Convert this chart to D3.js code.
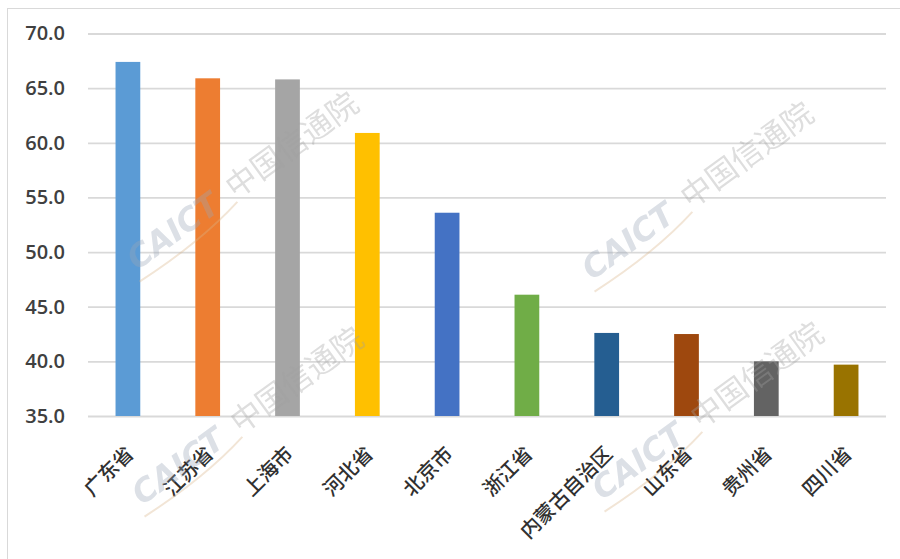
<!DOCTYPE html>
<html>
<head>
<meta charset="utf-8">
<script src="https://cdn.jsdelivr.net/npm/d3@7"></script>
<style>
  html, body { margin: 0; padding: 0; background: #ffffff; }
  svg { display: block; }
</style>
</head>
<body>
<svg id="chart" width="900" height="559"></svg>
<script>
// Regions and their scores
const regions = ["广东省", "江苏省", "上海市", "河北省", "北京市", "浙江省", "内蒙古自治区", "山东省", "贵州省", "四川省"];
const scores = [67.4, 65.9, 65.8, 60.9, 53.6, 46.1, 42.6, 42.5, 40.0, 39.7];
const barColors = ["#5B9BD5", "#ED7D31", "#A5A5A5", "#FFC000", "#4472C4", "#70AD47", "#255E91", "#9E480E", "#636363", "#997300"];
const yTicks = [35, 40, 45, 50, 55, 60, 65, 70];

const svg = d3.select("#chart");
const W = 900, H = 559;
const plot = { left: 88, right: 886, top: 33.5, bottom: 416 };

// frame
svg.append("line").attr("x1", 7).attr("x2", W).attr("y1", 8.5).attr("y2", 8.5)
  .attr("stroke", "#d9d9d9").attr("stroke-width", 1);
svg.append("line").attr("x1", 7.5).attr("x2", 7.5).attr("y1", 8).attr("y2", H)
  .attr("stroke", "#d9d9d9").attr("stroke-width", 1);

const x = d3.scaleBand().domain(regions).range([plot.left, plot.right])
  .paddingInner(0.69).paddingOuter(0.345);
const y = d3.scaleLinear().domain([35, 70]).range([plot.bottom, plot.top]);

// horizontal gridlines + value labels
const yAxis = d3.axisLeft(y).tickValues(yTicks).tickFormat(d3.format(".1f"))
  .tickSize(-(plot.right - plot.left)).tickPadding(23);
const gy = svg.append("g").attr("transform", `translate(${plot.left},0)`).call(yAxis);
gy.select(".domain").remove();
gy.selectAll(".tick line").attr("stroke", "#d9d9d9").attr("stroke-width", 1.8);
gy.selectAll(".tick text")
  .attr("fill", "#404040")
  .style("font-family", "'Open Sans', 'DejaVu Sans', sans-serif")
  .style("font-size", "20px")
  .style("font-weight", "600");

// bars
svg.append("g").selectAll("rect").data(regions).join("rect")
  .attr("x", d => x(d))
  .attr("width", x.bandwidth())
  .attr("y", (d, i) => y(scores[i]))
  .attr("height", (d, i) => y(35) - y(scores[i]))
  .attr("fill", (d, i) => barColors[i]);

// category labels, slanted
const xAxis = d3.axisBottom(x).tickSize(0).tickPadding(0);
const gx = svg.append("g").attr("transform", `translate(0,${plot.bottom})`).call(xAxis);
gx.select(".domain").remove();
gx.selectAll(".tick text")
  .attr("fill", "#303030")
  .attr("text-anchor", "end")
  .attr("dy", null)
  .attr("transform", "translate(7,39) rotate(-45)")
  .style("font-family", "'Noto Sans CJK SC', sans-serif")
  .style("font-size", "20px")
  .style("font-weight", "500");

// CAICT watermark stamps
const marks = [[235, 185], [690, 195], [240, 420], [700, 415]];
const wm = svg.append("g").attr("opacity", 0.35).style("pointer-events", "none");
marks.forEach(([cx, cy]) => {
  const g = wm.append("g").attr("transform", `translate(${cx},${cy}) rotate(-36)`);
  g.append("text").attr("x", -130).attr("y", 12)
    .attr("fill", "#9aa6b8")
    .style("font-family", "'DejaVu Sans', sans-serif")
    .style("font-size", "32px").style("font-weight", "bold").style("font-style", "italic")
    .text("CAICT");
  g.append("path").attr("d", "M-134,22 Q-62,26 -8,15")
    .attr("fill", "none").attr("stroke", "#d9b58a").attr("stroke-width", 2);
  g.append("text").attr("x", -8).attr("y", 12)
    .attr("fill", "#a0a0a0")
    .style("font-family", "'Noto Sans CJK SC', sans-serif")
    .style("font-size", "31px")
    .text("中国信通院");
});
</script>
</body>
</html>
